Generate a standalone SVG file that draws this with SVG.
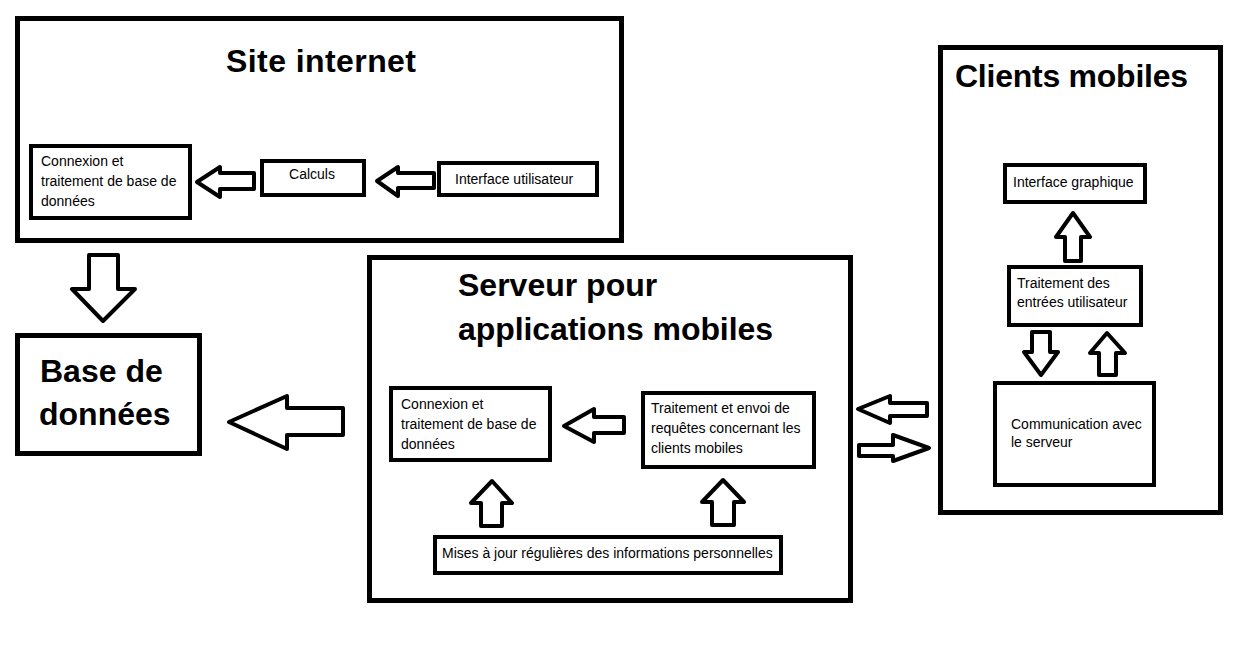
<svg xmlns="http://www.w3.org/2000/svg" width="1233" height="647" viewBox="0 0 1233 647">
<style>
.big{fill:#fff;stroke:#000;stroke-width:5}
.box{fill:#fff;stroke:#000;stroke-width:4}
.arr{fill:#fff;stroke:#000;stroke-width:4;stroke-linejoin:round}
.t{font-family:"Liberation Sans",Arial,sans-serif;font-size:14px;fill:#000}
.h{font-family:"Liberation Sans",Arial,sans-serif;font-size:32px;font-weight:bold;fill:#000}
</style>
<rect width="1233" height="647" fill="#fff"/>
<g id="site-internet">
<rect class="big" x="17.5" y="18.5" width="604" height="222"/>
<text class="h" x="226" y="72" textLength="190">Site internet</text>
</g>
<g id="site-connexion">
<rect class="box" x="31" y="146" width="159" height="72"/>
<text class="t" x="41" y="166">Connexion et</text>
<text class="t" x="41" y="186">traitement de base de</text>
<text class="t" x="41" y="206">données</text>
</g>
<g id="site-calculs">
<rect class="box" x="262" y="161" width="102" height="34"/>
<text class="t" x="312" y="179" text-anchor="middle">Calculs</text>
</g>
<g id="site-interface">
<rect class="box" x="439" y="163" width="158" height="32"/>
<text class="t" x="455" y="184">Interface utilisateur</text>
</g>
<g id="base-de-donnees">
<rect class="big" x="17.5" y="335.5" width="182" height="118"/>
<text class="h" x="40" y="382">Base de</text>
<text class="h" x="39" y="425">données</text>
</g>
<g id="serveur">
<rect class="big" x="369.5" y="257.5" width="481" height="343"/>
<text class="h" x="458" y="296">Serveur pour</text>
<text class="h" x="458" y="340" textLength="315">applications mobiles</text>
</g>
<g id="serveur-connexion">
<rect class="box" x="391" y="388" width="159" height="72"/>
<text class="t" x="401" y="409">Connexion et</text>
<text class="t" x="401" y="429">traitement de base de</text>
<text class="t" x="401" y="449">données</text>
</g>
<g id="serveur-traitement">
<rect class="box" x="643" y="393" width="171" height="74"/>
<text class="t" x="651" y="413">Traitement et envoi de</text>
<text class="t" x="651" y="433">requêtes concernant les</text>
<text class="t" x="651" y="453">clients mobiles</text>
</g>
<g id="serveur-mises-a-jour">
<rect class="box" x="435" y="537" width="346" height="36"/>
<text class="t" x="442" y="558">Mises à jour régulières des informations personnelles</text>
</g>
<g id="clients-mobiles">
<rect class="big" x="940.5" y="47.5" width="280" height="465"/>
<text class="h" x="955" y="87" textLength="233">Clients mobiles</text>
</g>
<g id="clients-interface">
<rect class="box" x="1005" y="165" width="140" height="37"/>
<text class="t" x="1013" y="187">Interface graphique</text>
</g>
<g id="clients-traitement">
<rect class="box" x="1009" y="267" width="132" height="58"/>
<text class="t" x="1017" y="288">Traitement des</text>
<text class="t" x="1017" y="307">entrées utilisateur</text>
</g>
<g id="clients-communication">
<rect class="box" x="995" y="383" width="159" height="102"/>
<text class="t" x="1011" y="429">Communication avec</text>
<text class="t" x="1011" y="447">le serveur</text>
</g>
<g id="connectors">
<polygon class="arr" points="197,182 220,167 220,173 254,173 254,189 220,189 220,197"/>
<polygon class="arr" points="377,181 398,167 398,173 434,173 434,188 398,188 398,196"/>
<polygon class="arr" points="89,255 118,255 118,289 135,289 103,321 72,289 89,289"/>
<polygon class="arr" points="229,422 287,396 287,408 343,408 343,435 287,435 287,449"/>
<polygon class="arr" points="564,426 594,409 594,417 624,417 624,433 594,433 594,442"/>
<polygon class="arr" points="492,481 512,503 502,503 502,526 481,526 481,503 471,503"/>
<polygon class="arr" points="723,480 744,502 734,502 734,525 712,525 712,502 702,502"/>
<polygon class="arr" points="858,409 890,396 890,403 927,403 927,416 890,416 890,423"/>
<polygon class="arr" points="929,448 893,435 893,445 859,445 859,456 893,456 893,461"/>
<polygon class="arr" points="1073,213 1090,237 1081,237 1081,261 1065,261 1065,237 1056,237"/>
<polygon class="arr" points="1032,332 1050,332 1050,352 1058,352 1041,375 1024,352 1032,352"/>
<polygon class="arr" points="1107,333 1125,353 1116,353 1116,375 1099,375 1099,353 1090,353"/>
</g>
</svg>
